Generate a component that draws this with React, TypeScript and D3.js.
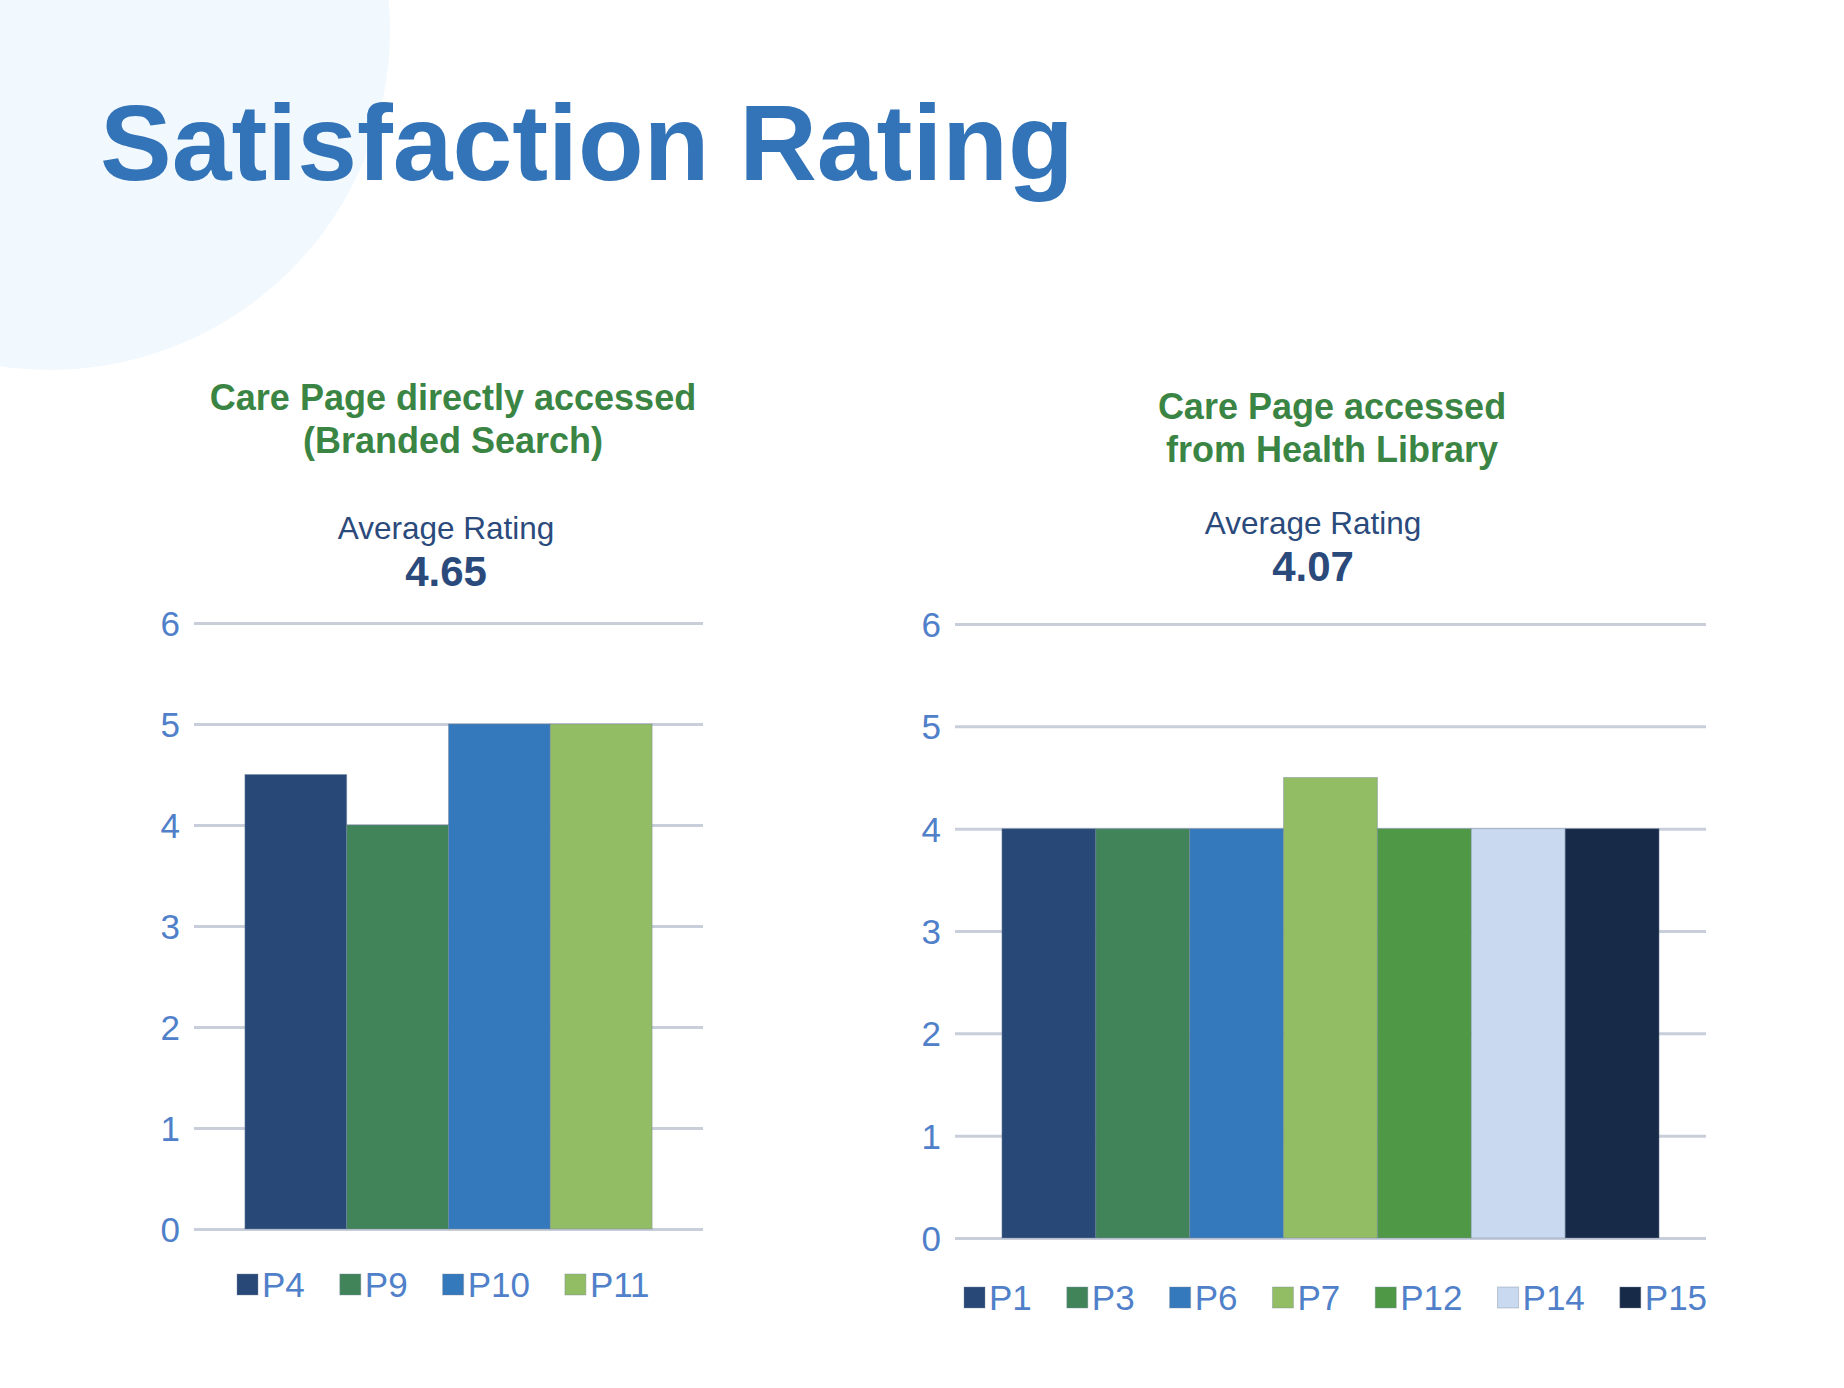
import { useEffect, useRef } from 'react';
import * as d3 from 'd3';

const leftSeries = ['P4', 'P9', 'P10', 'P11'];
const leftValues = [4.5, 4, 5, 5];
const leftColors = ['#284878', '#41845a', '#3479bc', '#93bd64'];

const rightSeries = ['P1', 'P3', 'P6', 'P7', 'P12', 'P14', 'P15'];
const rightValues = [4, 4, 4, 4.5, 4, 4, 4];
const rightColors = ['#284878', '#41845a', '#3479bc', '#93bd64', '#4e9846', '#c8d9f0', '#172a48'];

const yTicks = [0, 1, 2, 3, 4, 5, 6];
const leftTitle = ['Care Page directly accessed', '(Branded Search)'];
const rightTitle = ['Care Page accessed', 'from Health Library'];
const averageLabel = 'Average Rating';
const leftAverage = '4.65';
const rightAverage = '4.07';

const FONT = '"Liberation Sans", Arial, sans-serif';

type ChartCfg = {
  series: string[];
  values: number[];
  colors: string[];
  title: string[];
  average: string;
  x0: number;
  x1: number;
  yTop: number;
  yBottom: number;
  titleX: number;
  titleY: number;
  avgX: number;
  avgY: number;
  legendX: number;
  legendY: number;
};

const drawChart = (svg: d3.Selection<SVGSVGElement, unknown, null, undefined>, c: ChartCfg) => {
  const g = svg.append('g');

  // headings
  g.selectAll('text.sub')
    .data(c.title)
    .enter()
    .append('text')
    .attr('x', c.titleX)
    .attr('y', (_, i) => c.titleY + i * 43)
    .attr('text-anchor', 'middle')
    .attr('font-family', FONT)
    .attr('font-weight', 'bold')
    .attr('font-size', 36)
    .attr('fill', '#3b8544')
    .text(d => d);

  g.append('text')
    .attr('x', c.avgX)
    .attr('y', c.avgY)
    .attr('text-anchor', 'middle')
    .attr('font-family', FONT)
    .attr('font-size', 31.5)
    .attr('fill', '#2b4a7c')
    .text(averageLabel);

  g.append('text')
    .attr('x', c.avgX)
    .attr('y', c.avgY + 47)
    .attr('text-anchor', 'middle')
    .attr('font-family', FONT)
    .attr('font-weight', 'bold')
    .attr('font-size', 42)
    .attr('fill', '#2b4a7c')
    .text(c.average);

  const x = d3.scaleBand<string>().domain(c.series).range([c.x0, c.x1]).paddingInner(0).paddingOuter(0.5);
  const y = d3.scaleLinear().domain([0, 6]).range([c.yBottom, c.yTop]);

  const axis = g
    .append('g')
    .attr('transform', `translate(${c.x0},0)`)
    .call(
      d3
        .axisLeft(y)
        .tickValues(yTicks)
        .tickSize(-(c.x1 - c.x0))
        .tickPadding(14)
        .tickFormat(d3.format('d'))
    );
  axis.select('.domain').remove();
  axis.selectAll('.tick line').attr('stroke', '#c8cfdb').attr('stroke-width', 3);
  axis
    .selectAll('.tick text')
    .attr('font-family', FONT)
    .attr('font-size', 35)
    .attr('fill', '#4f80c9')
    .attr('dy', '0.36em');

  g.selectAll('rect.bar')
    .data(c.values)
    .enter()
    .append('rect')
    .attr('x', (_, i) => x(c.series[i]) ?? 0)
    .attr('y', d => y(d))
    .attr('width', x.bandwidth())
    .attr('height', d => y(0) - y(d))
    .attr('fill', (_, i) => c.colors[i])
    .attr('stroke', 'rgba(120,135,155,0.45)')
    .attr('stroke-width', 1);

  // legend
  const legend = g.append('g');
  let cx = c.legendX;
  c.series.forEach((s, i) => {
    legend
      .append('rect')
      .attr('x', cx)
      .attr('y', c.legendY - 23)
      .attr('width', 21)
      .attr('height', 21)
      .attr('fill', c.colors[i])
      .attr('stroke', 'rgba(120,135,155,0.4)')
      .attr('stroke-width', 1);
    const t = legend
      .append('text')
      .attr('x', cx + 25)
      .attr('y', c.legendY)
      .attr('font-family', FONT)
      .attr('font-size', 35)
      .attr('fill', '#4f80c9')
      .text(s);
    const w = (t.node() as SVGTextElement).getComputedTextLength();
    cx += 25 + w + 35;
  });
};

const App = () => {
  const ref = useRef<SVGSVGElement>(null!);

  useEffect(() => {
    const svg = d3.select(ref.current);
    svg.selectAll('*').remove();

    svg.append('rect').attr('width', 1844).attr('height', 1388).attr('fill', '#ffffff');
    svg.append('circle').attr('cx', 50).attr('cy', 30).attr('r', 340).attr('fill', '#f1f8fe');

    svg
      .append('text')
      .attr('x', 100)
      .attr('y', 180)
      .attr('font-family', FONT)
      .attr('font-weight', 'bold')
      .attr('font-size', 107.5)
      .attr('fill', '#3374b8')
      .text('Satisfaction Rating');

    drawChart(svg, {
      series: leftSeries,
      values: leftValues,
      colors: leftColors,
      title: leftTitle,
      average: leftAverage,
      x0: 194,
      x1: 703,
      yTop: 623,
      yBottom: 1229,
      titleX: 453,
      titleY: 410,
      avgX: 446,
      avgY: 539,
      legendX: 237,
      legendY: 1297,
    });

    drawChart(svg, {
      series: rightSeries,
      values: rightValues,
      colors: rightColors,
      title: rightTitle,
      average: rightAverage,
      x0: 955,
      x1: 1706,
      yTop: 624,
      yBottom: 1238,
      titleX: 1332,
      titleY: 419,
      avgX: 1313,
      avgY: 534,
      legendX: 964,
      legendY: 1310,
    });

    return () => {
      ref.current.innerHTML = '';
    };
  }, []);

  return (
    <svg
      ref={ref}
      width={1844}
      height={1388}
      style={{ position: 'absolute', left: 0, top: 0, display: 'block' }}
    ></svg>
  );
};

export default App;
